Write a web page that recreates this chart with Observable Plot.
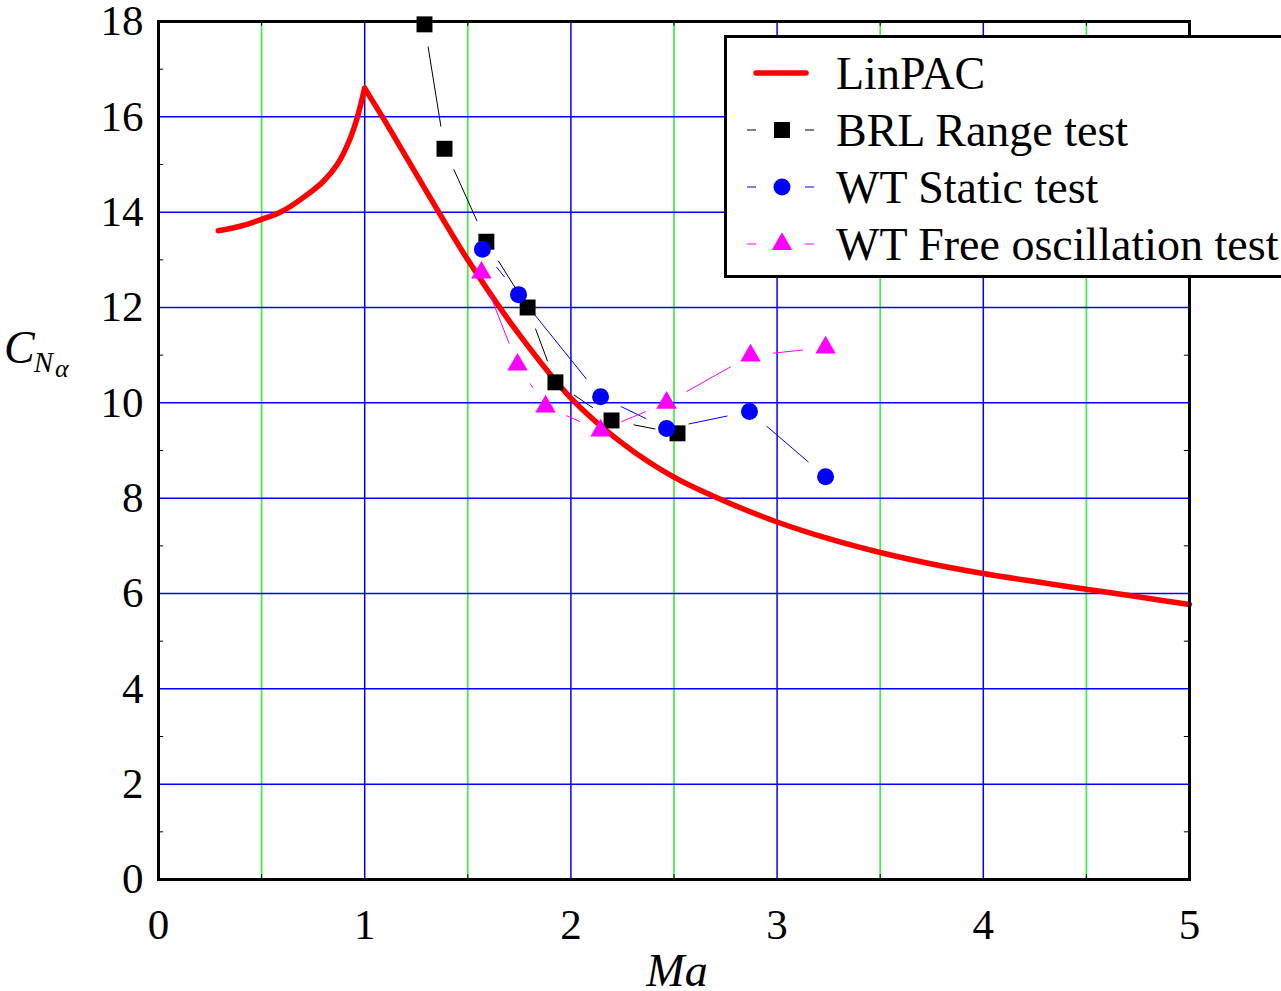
<!DOCTYPE html>
<html><head><meta charset="utf-8">
<script src="https://cdn.jsdelivr.net/npm/d3@7"></script>
<script src="https://cdn.jsdelivr.net/npm/@observablehq/plot@0.6"></script>
<style>
body{margin:0;background:#fff}
#chart{position:relative;width:1281px;height:991px;overflow:hidden}
</style>
</head><body><div id="chart"></div>
<script>
// ---- data ----
const linpacMa = [0.29,0.4,0.5,0.6,0.7,0.8,0.87,0.93,0.965,1.0,1.05,1.1,1.25,1.5,1.75,2.0,2.25,2.5,2.75,3.0,3.25,3.5,3.75,4.0,4.25,4.5,4.75,5.0];
const linpacCn = [13.61,13.71,13.85,14.02,14.30,14.65,15.02,15.55,16.0,16.6,16.25,15.9,14.8,13.0,11.43,10.1,9.15,8.44,7.93,7.5,7.15,6.86,6.62,6.42,6.25,6.09,5.93,5.77];
const brlMa = [1.29,1.387,1.59,1.79,1.925,2.197,2.517];
const brlCn = [17.94,15.33,13.38,12.0,10.43,9.63,9.36];
const staticMa = [1.571,1.746,2.144,2.464,2.866,3.235];
const staticCn = [13.22,12.27,10.13,9.46,9.82,8.45];
const freeMa = [1.566,1.741,1.877,2.144,2.464,2.871,3.235];
const freeCn = [12.73,10.80,9.92,9.42,10.0,10.99,11.16];
const xTicks = [0,1,2,3,4,5];
const xHalf = [0.5,1.5,2.5,3.5,4.5];
const yTicks = [0,2,4,6,8,10,12,14,16,18];
const yOdd = [1,3,5,7,9,11,13,15,17];
const legendLabels = ["LinPAC","BRL Range test","WT Static test","WT Free oscillation test"];

// ---- layout ----
const W = 1281, H = 991;
const M = {top:21, right:92, bottom:112, left:158};
const sx = d3.scaleLinear([0,5],[M.left, W-M.right]);
const sy = d3.scaleLinear([0,18],[H-M.bottom, M.top]);

const zip = (xs, ys) => xs.map((x,i)=>({x, y:ys[i]}));
const linpac = zip(linpacMa, linpacCn);
const linLeft = linpac.filter(d => d.x <= 1.0);
const linRight = linpac.filter(d => d.x >= 1.0);
const brl = zip(brlMa, brlCn);
const stat = zip(staticMa, staticCn);
const free = zip(freeMa, freeCn);

// connecting segments with a gap around each symbol
function gapSegments(pts, gap){
  const out = [];
  for (let i=0;i<pts.length-1;i++){
    const a=pts[i], b=pts[i+1];
    const ax=sx(a.x), ay=sy(a.y), bx=sx(b.x), by=sy(b.y);
    const d=Math.hypot(bx-ax, by-ay);
    if (d <= 2*gap) continue;
    const ux=(bx-ax)/d, uy=(by-ay)/d;
    out.push({x1:sx.invert(ax+ux*gap), y1:sy.invert(ay+uy*gap), x2:sx.invert(bx-ux*gap), y2:sy.invert(by-uy*gap)});
  }
  return out;
}
const GAP = 22.5;
const serif = "Liberation Serif, Times New Roman, serif";
const FS = 43;     // tick labels
const LFS = 46;    // legend
const R = {square:9, circle:8.5, triangle:7.6};

const plot = Plot.plot({
  width: W, height: H,
  marginTop: M.top, marginRight: M.right, marginBottom: M.bottom, marginLeft: M.left,
  x: {domain:[0,5], label:null},
  y: {domain:[0,18], label:null},
  style: {fontFamily:serif, fontSize:FS+"px", color:"black", background:"white"},
  marks: [
    Plot.ruleX(xHalf, {stroke:"#3cf03c", strokeWidth:1.7}),
    Plot.ruleX(xTicks.slice(1,-1), {stroke:"#0000ff", strokeWidth:1.5}),
    Plot.ruleY(yTicks.slice(1,-1), {stroke:"#0000ff", strokeWidth:1.5}),
    Plot.ruleY(yOdd, {x1:0, x2:0.025, stroke:"black", strokeWidth:1}),
    Plot.ruleY(yOdd, {x1:4.975, x2:5, stroke:"black", strokeWidth:1}),
    Plot.ruleX(xHalf, {y1:0, y2:0.1, stroke:"black", strokeWidth:1}),
    Plot.ruleX(xHalf, {y1:17.9, y2:18, stroke:"black", strokeWidth:1}),
    Plot.axisX({ticks:xTicks, tickSize:0, tickPadding:29, tickFormat:d=>String(d), fontSize:FS}),
    Plot.axisY({ticks:yTicks, tickSize:0, tickPadding:15, tickFormat:d=>String(d), fontSize:FS}),
    Plot.line(linLeft, {x:"x", y:"y", curve:"catmull-rom", stroke:"#ff0000", strokeWidth:5.5, strokeLinecap:"round", strokeLinejoin:"round"}),
    Plot.line(linRight, {x:"x", y:"y", curve:"catmull-rom", stroke:"#ff0000", strokeWidth:5.5, strokeLinecap:"round", strokeLinejoin:"round"}),
    Plot.link(gapSegments(brl,GAP), {x1:"x1", y1:"y1", x2:"x2", y2:"y2", stroke:"black", strokeWidth:1}),
    Plot.link(gapSegments(stat,GAP), {x1:"x1", y1:"y1", x2:"x2", y2:"y2", stroke:"#0000ff", strokeWidth:1}),
    Plot.link(gapSegments(free,GAP), {x1:"x1", y1:"y1", x2:"x2", y2:"y2", stroke:"#ff00ff", strokeWidth:1}),
    Plot.dot(brl, {x:"x", y:"y", symbol:"square", r:R.square, fill:"black", stroke:"none"}),
    Plot.dot(stat, {x:"x", y:"y", symbol:"circle", r:R.circle, fill:"#0000ff", stroke:"none"}),
    Plot.dot(free, {x:"x", y:"y", symbol:"triangle", r:R.triangle, fill:"#ff00ff", stroke:"none"}),
    Plot.frame({stroke:"black", strokeWidth:3})
  ]
});
document.getElementById("chart").appendChild(plot);

// ---- axis titles ----
const svg = d3.select(plot);
const yl = svg.append("text").attr("x",4).attr("y",363).attr("text-anchor","start")
  .attr("font-family",serif).attr("font-style","italic").attr("fill","black");
yl.append("tspan").attr("font-size",46).text("C");
yl.append("tspan").attr("font-size",29).attr("dy",9).attr("dx",-1).text("N");
yl.append("tspan").attr("font-size",26).attr("dy",5).attr("dx",2).text("α");
svg.append("text").attr("x",677).attr("y",986).attr("text-anchor","middle").attr("font-family",serif)
  .attr("font-style","italic").attr("font-size",46).attr("fill","black").text("Ma");

// ---- legend ----
const lg = svg.append("g").attr("font-family",serif).attr("font-size",LFS).attr("fill","black").attr("text-anchor","start");
lg.append("rect").attr("x",725.5).attr("y",36.5).attr("width",620).attr("height",240)
  .attr("fill","white").attr("stroke","black").attr("stroke-width",3);
const rowY = [73,130,187,244];
const cols = ["#ff0000","black","#0000ff","#ff00ff"];
const sym = [null, d3.symbolSquare, d3.symbolCircle, d3.symbolTriangle];
const sizes = [0, Math.PI*R.square**2, Math.PI*R.circle**2, Math.PI*R.triangle**2];
rowY.forEach((y,i)=>{
  if (i===0){
    lg.append("line").attr("x1",756).attr("x2",806).attr("y1",y).attr("y2",y)
      .attr("stroke",cols[0]).attr("stroke-width",5.5).attr("stroke-linecap","round");
  } else {
    lg.append("line").attr("x1",747).attr("x2",756).attr("y1",y).attr("y2",y).attr("stroke",cols[i]).attr("stroke-width",1);
    lg.append("line").attr("x1",805).attr("x2",814).attr("y1",y).attr("y2",y).attr("stroke",cols[i]).attr("stroke-width",1);
    lg.append("path").attr("transform",`translate(782,${y})`).attr("d",d3.symbol(sym[i], sizes[i])()).attr("fill",cols[i]);
  }
  lg.append("text").attr("x",836).attr("y",y+16).attr("fill","black").text(legendLabels[i]);
});
</script>
</body></html>
